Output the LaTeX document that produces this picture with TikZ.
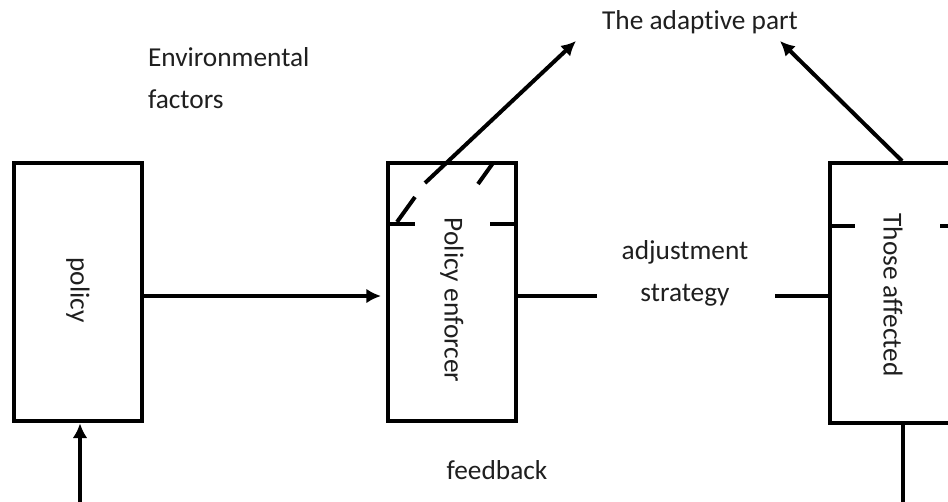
\documentclass[tikz,border=0pt]{standalone}
\usepackage{fontspec}
\setmainfont{Carlito}[Ligatures=NoCommon]
\usetikzlibrary{arrows.meta}
\begin{document}
\begin{tikzpicture}[x=0.75pt,y=-0.75pt,line width=3pt,
  box/.style={draw,line width=3pt,minimum width=96pt,minimum height=194pt,inner sep=0pt},
  lbl/.style={font=\fontsize{20.5}{31.5}\selectfont,text=black!88,inner sep=0pt},
  arr/.style={-{Latex[length=11pt,width=11pt]}},
  seg/.style={line width=3pt}]
\clip (0,0) rectangle (948,501);
\fill[white] (0,0) rectangle (948,501);
% boxes
\node[box] (pol) at (78,292) {};
\node[box] (enf) at (452,292) {};
\node[box,minimum height=195pt] (aff) at (894,293) {};
% box texts
\node[lbl,rotate=-90] (poltxt) at (78,290) {policy};
\node[lbl,rotate=-90] (enftxt) at (452,300) {Policy enforcer};
\node[lbl,rotate=-90] (afftxt) at (893,295) {Those affected};
% other labels
\node[lbl,anchor=north west,align=left] (env) at (146,46) {Environmental\\factors};
\node[lbl] (adapt) at (700,22) {The adaptive part};
\node[lbl,align=center] (adj) at (685,273) {adjustment\\strategy};
\node[lbl] (fb) at (497,470) {feedback};
% dashed separators
\draw[seg] (enf.west |- 0,224) -- (415,224);
\draw[seg] (490,224) -- (enf.east |- 0,224);
\draw[seg] (aff.west |- 0,226) -- (855,226);
\draw[seg] (940,226) -- (960,226);
% hatch strokes in enforcer
\draw[seg] (397,222) -- (415,197);
\draw[seg] (478,184) -- (493,163);
% arrows to adaptive part
\coordinate (hA) at (425,183);
\coordinate (tipA) at (576,41);
\coordinate (tipB) at (780,41);
\draw[arr] (hA) -- (tipA);
\draw[arr] (aff.north -| 902,0) -- (tipB);
% policy to enforcer
\coordinate (pe) at (381,296);
\draw[arr] (pol.east |- pe) -- (pe);
% enforcer to affected through adjustment strategy
\coordinate (g1) at (597,296);
\coordinate (g2) at (775,296);
\draw (enf.east |- g1) -- (g1);
\draw (g2) -- (aff.west |- g2);
% feedback
\coordinate (fbR) at (903,505);
\coordinate (fbL) at (80,505);
\draw (aff.south -| fbR) -- (fbR);
\draw[arr] (fbL) -- (pol.south -| fbL);
\end{tikzpicture}
\end{document}
